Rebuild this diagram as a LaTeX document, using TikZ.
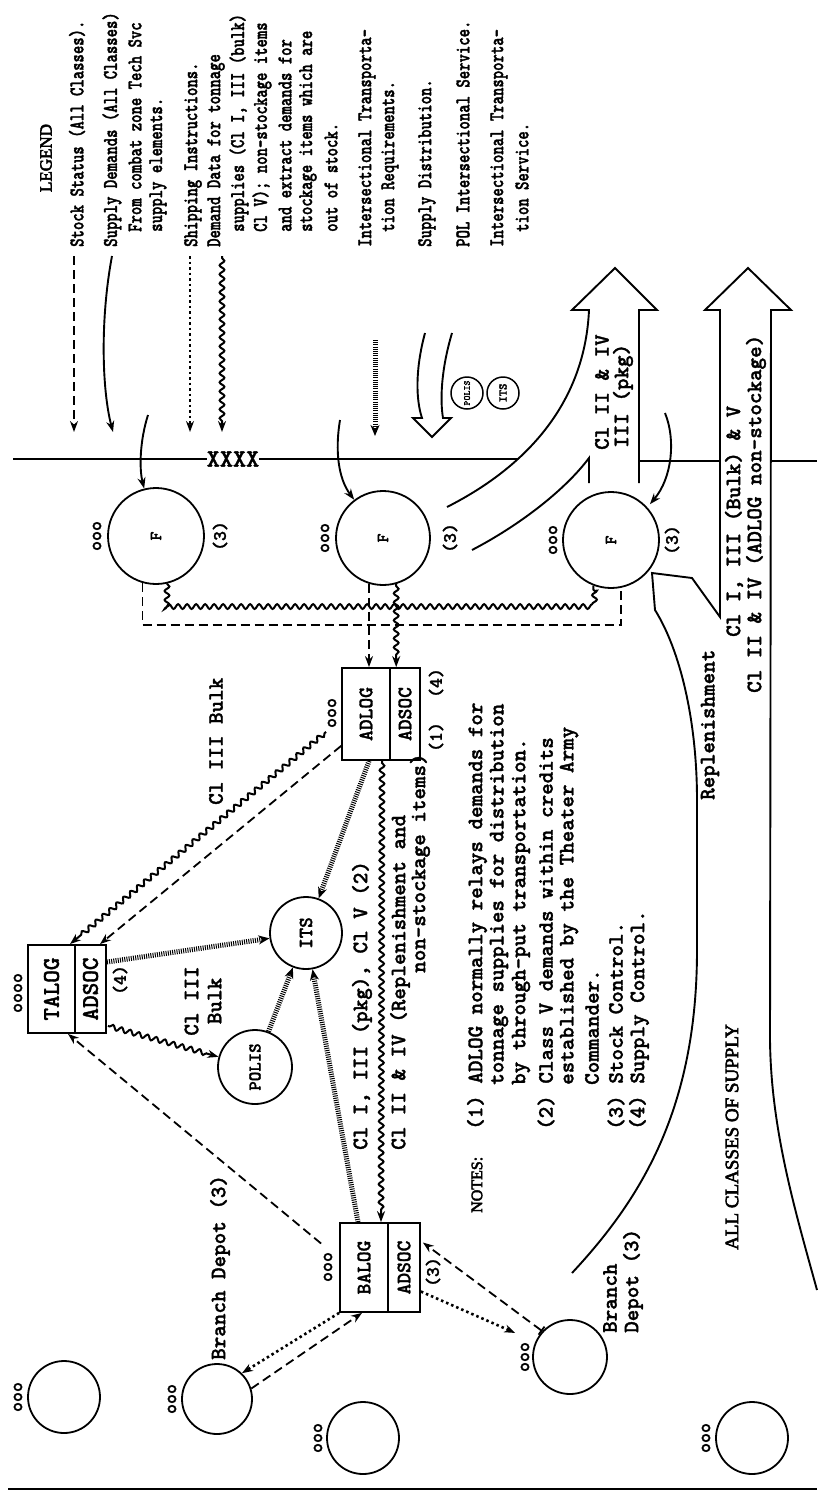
\documentclass[tikz,border=0pt]{standalone}
\usepackage{fontspec}
\usepackage{graphicx}
\usetikzlibrary{arrows.meta,decorations.pathmorphing,calc}
\newfontfamily\twf[FakeBold=1.5]{lmmonolt10-bold.otf}
\newfontfamily\twfl[FakeStretch=0.76,FakeBold=1.5]{lmmonolt10-bold.otf}
\newfontfamily\serb[FakeBold=3]{Liberation Serif}
\newcommand\myLab{\twf\fontsize{22}{23}\selectfont}
\newcommand\myLeg{\twfl\fontsize{21}{23}\selectfont}
\newcommand\mySm{\twf\fontsize{19}{19}\selectfont}
\newcommand\myHead[1]{\serb\fontsize{#1}{#1}\selectfont}
\newcommand\rtx[1]{\rotatebox{90}{#1}}
\tikzset{
  txt/.style={rotate=90, inner sep=0pt, font=\myLab},
  leg/.style={rotate=90, inner sep=0pt, anchor=west, font=\myLeg},
  sm/.style={rotate=90, inner sep=0pt, font=\mySm},
  box/.style={draw, line width=1.8pt, inner sep=0pt, font=\twf\fontsize{20.5}{20.5}\selectfont},
  circ/.style={draw, circle, line width=1.8pt, inner sep=0pt},
  tip/.style={-{Stealth[length=11pt,width=8pt]}},
  sol/.style={line width=1.9pt},
  dsh/.style={line width=1.8pt, dash pattern=on 9pt off 5pt},
  dot/.style={line width=2.6pt, dash pattern=on 2.5pt off 3pt},
  wav/.style={line width=2pt, decorate, decoration={snake, amplitude=2.4pt, segment length=9pt, pre length=2pt, post length=10pt}},
  hat/.style={line width=5pt, dash pattern=on 1pt off 1.2pt},
}
\begin{document}
\begin{tikzpicture}[x=1pt,y=-1pt]
\useasboundingbox (0,0) rectangle (817,1494);

% ---------------- LEGEND ----------------
\node[rotate=90, inner sep=0pt, font={\myHead{17}}] (legend) at (46,158) {LEGEND};
\node[leg] (l1) at (77,247) {Stock Status (All Classes).};
\node[leg] (l2) at (112,247) {Supply Demands (All Classes)};
\node[leg] (l3) at (135,232) {From combat zone Tech Svc};
\node[leg] (l4) at (158,232) {supply elements.};
\node[leg] (l5) at (193,247) {Shipping Instructions.};
\node[leg] (l6) at (216,247) {Demand Data for tonnage};
\node[leg] (l7) at (239,232) {supplies (Cl I, III (bulk)};
\node[leg] (l8) at (262,232) {Cl V); non-stockage items};
\node[leg] (l9) at (285,232) {and extract demands for};
\node[leg] (l10) at (308,232) {stockage items which are};
\node[leg] (l11) at (331,232) {out of stock.};
\node[leg] (l12) at (367,247) {Intersectional Transporta-};
\node[leg] (l13) at (390,232) {tion Requirements.};
\node[leg] (l14) at (427,247) {Supply Distribution.};
\node[leg] (l15) at (463,247) {POL Intersectional Service.};
\node[leg] (l16) at (499,247) {Intersectional Transporta-};
\node[leg] (l17) at (522,232) {tion Service.};

% legend symbols
\coordinate (a1) at (74,256);  \coordinate (b1) at (74,432);
\draw[dsh,tip] (a1) -- (b1);
\coordinate (a2) at (112,256); \coordinate (b2) at (113,432);
\draw[sol,tip] (a2) .. controls (100,320) and (102,390) .. (b2);
\coordinate (a3) at (190,256); \coordinate (b3) at (190,432);
\draw[dot,tip] (a3) -- (b3);
\coordinate (a4) at (222,256); \coordinate (b4) at (222,432);
\draw[wav,tip] (a4) -- (b4);
\coordinate (a5) at (375,340); \coordinate (b5) at (375,436);
\draw[hat,-{Stealth[length=11pt,width=9pt]}] (a5) -- (b5);
\draw[sol, line join=miter] (425,333) .. controls (415,370) and (416,400) .. (422,418) -- (413,418) -- (432,437) -- (451,418) -- (443,418) .. controls (440,400) and (441,370) .. (452,333);
\node[circ, minimum size=32pt, line width=1.5pt, font=\twf\fontsize{9.5}{9.5}\selectfont] (lpolis) at (467,393) {\rtx{POLIS}};
\node[circ, minimum size=32pt, line width=1.5pt, font=\twf\fontsize{12}{12}\selectfont] (lits) at (503,393) {\rtx{ITS}};

% ---------------- boundary ----------------
\node[inner sep=0pt, font=\twf\fontsize{25}{25}\selectfont] (xxxx) at (233,459) {XXXX};
\draw[sol] (13,459) -- (xxxx.west);
\draw[sol] (xxxx.east) -- (518,459);
\draw[sol] (639,461) -- (720,461);
\draw[sol] (771,461) -- (817,461);

% ---------------- F circles ----------------
\node[circ, minimum size=96pt, font=\twf\fontsize{17}{17}\selectfont] (f1) at (156,536) {\rtx{F}};
\node[circ, minimum size=94pt, font=\twf\fontsize{17}{17}\selectfont] (f2) at (383,538) {\rtx{F}};
\node[circ, minimum size=96pt, font=\twf\fontsize{17}{17}\selectfont] (f3) at (611,540) {\rtx{F}};
\node[sm] (o1) at (97,536) {ooo};
\node[sm] (o2) at (325,538) {ooo};
\node[sm] (o3) at (553,540) {ooo};
\node[sm] (n1) at (220,536) {(3)};
\node[sm] (n2) at (450,538) {(3)};
\node[sm] (n3) at (672,540) {(3)};

\coordinate (sd1) at (148,415);
\draw[sol,tip] (sd1) .. controls (140,440) and (139,468) .. (f1.104);
\coordinate (sd2) at (340,420);
\draw[sol,tip] (sd2) .. controls (335,450) and (338,478) .. (f2.127);
\coordinate (sd3) at (665,413);
\draw[sol,tip,shorten >=4pt] (sd3) .. controls (676,440) and (672,478) .. (f3.42);

% ---------------- boxes ----------------
\node[box, minimum width=47pt, minimum height=88pt, font=\twf\fontsize{24}{24}\selectfont] (talog) at (51.5,989) {\rtx{TALOG}};
\node[box, minimum width=31pt, minimum height=88pt, font=\twf\fontsize{24}{24}\selectfont] (tadsoc) at (90.5,989) {\rtx{ADSOC}};
\node[box, minimum width=48pt, minimum height=92pt] (adlog) at (366,714) {\rtx{ADLOG}};
\node[box, minimum width=30pt, minimum height=92pt] (aadsoc) at (405,714) {\rtx{ADSOC}};
\node[box, minimum width=48pt, minimum height=89pt] (balog) at (364,1267.5) {\rtx{BALOG}};
\node[box, minimum width=32pt, minimum height=89pt] (badsoc) at (404,1267.5) {\rtx{ADSOC}};
\node[sm] (to) at (18,993) {oooo};
\node[sm] (t4) at (120,980) {(4)};
\node[sm] (ao) at (332,713) {ooo};
\node[sm] (a1n) at (436,737) {(1)};
\node[sm] (a4n) at (436,683) {(4)};
\node[sm] (bo) at (328,1267) {ooo};
\node[sm] (b3n) at (433,1272) {(3)};

\node[circ, minimum size=72pt, font=\twf\fontsize{20}{20}\selectfont] (its) at (306,933) {\rtx{ITS}};
\node[circ, minimum size=74pt, font=\twf\fontsize{18}{18}\selectfont] (polis) at (255,1067) {\rtx{POLIS}};

% ---------------- bottom circles ----------------
\node[circ, minimum size=72pt] (c1) at (64,1397) {};
\node[circ, minimum size=70pt] (c2) at (217,1399) {};
\node[circ, minimum size=72pt] (c3) at (363,1438) {};
\node[circ, minimum size=74pt] (c4) at (570,1357) {};
\node[circ, minimum size=72pt] (c5) at (752,1438) {};
\node[sm] (c1o) at (18,1397) {ooo};
\node[sm] (c2o) at (172,1399) {ooo};
\node[sm] (c3o) at (318,1438) {ooo};
\node[sm] (c4o) at (525,1357) {ooo};
\node[sm] (c5o) at (706,1438) {ooo};
\node[txt, anchor=west] (bd1) at (220,1360) {Branch Depot (3)};
\node[txt, anchor=west] (bd2a) at (610,1333) {Branch};
\node[txt, anchor=west] (bd2b) at (633,1333) {Depot (3)};

% ---------------- F bus ----------------
\coordinate (busD) at (0,625);
\coordinate (busW) at (0,608);
\draw[dsh] (f1.254) -- (f1.254 |- busD) -- (f3.282 |- busD) -- (f3.282);
\draw[wav, decoration={post length=0pt, pre length=0pt}] (f1.283) -- (f1.283 |- busW) -- (f3.249 |- busW) -- (f3.249);
\draw[dsh,tip] (f2.253) -- (f2.253 |- adlog.north);
\draw[wav,tip] (f2.286) -- (f2.286 |- aadsoc.north);

% ---------------- connectors ----------------
\draw[wav,tip] ($(adlog.south west)+(-15,-29)$) -- ($(talog.north)+(18.5,0)$);
\draw[dsh,tip] ($(adlog.south west)+(0,-15)$) -- ($(tadsoc.north)+(9.5,0)$);
\draw[hat,-{Stealth[length=11pt,width=9pt]}] ($(tadsoc.east)+(0,-27)$) -- (its);
\draw[wav,tip] ($(tadsoc.south east)+(1,-8)$) -- (polis);
\draw[hat,-{Stealth[length=11pt,width=9pt]}] (polis) -- (its);
\draw[hat,-{Stealth[length=11pt,width=9pt]}] ($(balog.north)+(-6,0)$) -- (its);
\draw[hat,-{Stealth[length=11pt,width=9pt]}] ($(adlog.south)+(3,0)$) -- (its);
\draw[wav,tip] ($(adlog.south)+(16,0)$) -- ($(balog.north)+(17,0)$);
\draw[dsh,tip] ($(balog.west)+(-18,-24)$) -- ($(talog.south)+(16.5,0)$);
\draw[dot,tip] (balog.south west) -- (c2.46);
\draw[dsh,tip] (c2.17) -- ($(balog.south)+(-2,0)$);
\draw[dot,tip,shorten >=22pt] ($(badsoc.east)+(0,24)$) -- (c4);
\draw[dsh,{Bar[width=10pt]}-{Stealth[length=11pt,width=8pt]}] (c4.137) -- ($(badsoc.east)+(2,-25)$);

% ---------------- big arrows ----------------
\draw[sol, line join=miter] (447,507) .. controls (530,465) and (585,400) .. (589,310) -- (572,310) -- (615,268) -- (657,310) -- (639,310) -- (639,483);
\draw[sol] (472,550) .. controls (520,525) and (565,490) .. (589,458) -- (589,483);
\draw[sol, line join=miter] (572,1273) .. controls (640,1200) and (697,1110) .. (697,950) -- (697,800) .. controls (697,720) and (680,650) .. (655,610) -- (652,573) -- (692,578) -- (720,617) -- (720,310) -- (705,310) -- (748,268) -- (791,310) -- (771,310) -- (770,1040) .. controls (771,1130) and (795,1210) .. (817,1290);

\node[txt, anchor=west] (ar1a) at (602,450) {Cl II \& IV};
\node[txt, anchor=west] (ar1b) at (623,448) {III (pkg)};
\node[txt, anchor=west] (ar2a) at (734,637) {Cl I, III (Bulk) \& V};
\node[txt, anchor=west] (ar2b) at (756,693) {Cl II \& IV (ADLOG non-stockage)};
\node[txt, anchor=west] (rep) at (710,800) {Replenishment};
\node[rotate=90, inner sep=0pt, anchor=west, font={\myHead{19}}] (acs) at (732,1250) {ALL CLASSES OF SUPPLY};

% ---------------- labels ----------------
\node[txt, anchor=west] (lb1) at (216,805) {Cl III Bulk};
\node[txt, align=center] (lb2) at (203,1001) {Cl III\\Bulk};
\node[txt, anchor=west] (lb3) at (362,1150) {Cl I, III (pkg), Cl V (2)};
\node[txt, anchor=west] (lb4) at (400,1150) {Cl II \& IV (Replenishment and};
\node[txt, anchor=west] (lb5) at (420,973) {non-stockage items)};

% ---------------- notes ----------------
\node[rotate=90, inner sep=0pt, anchor=west, font={\myHead{16}}] (notes) at (477,1213) {NOTES:};
\node[txt, anchor=west] (nt1) at (477,1130) {(1) ADLOG normally relays demands for};
\node[txt, anchor=west] (nt2) at (499,1085) {tonnage supplies for distribution};
\node[txt, anchor=west] (nt3) at (521,1085) {by through-put transportation.};
\node[txt, anchor=west] (nt4) at (546,1130) {(2) Class V demands within credits};
\node[txt, anchor=west] (nt5) at (569,1085) {established by the Theater Army};
\node[txt, anchor=west] (nt6) at (592,1085) {Commander.};
\node[txt, anchor=west] (nt7) at (616,1130) {(3) Stock Control.};
\node[txt, anchor=west] (nt8) at (639,1130) {(4) Supply Control.};

% bottom border
\draw[sol] (8,1489) -- (817,1489);
\end{tikzpicture}
\end{document}
